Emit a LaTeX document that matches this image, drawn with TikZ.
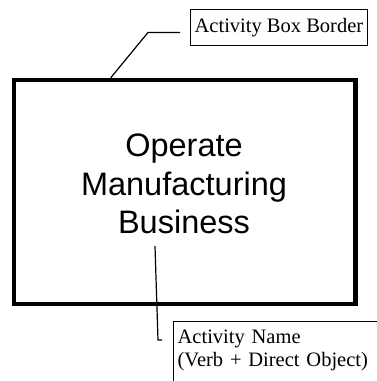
\documentclass[tikz,border=0pt]{standalone}
\usepackage{fontspec}
\setmainfont{Liberation Serif}
\newfontfamily\arialfont{Liberation Sans}
\usetikzlibrary{calc}

\begin{document}
\begin{tikzpicture}[x=1pt,y=-1pt,
  act/.style={draw=black,line width=4.5pt,minimum width=341.5pt,minimum height=224pt,
              inner sep=0pt},
  actname/.style={font=\arialfont\fontsize{32.5}{38.5}\selectfont,align=center,inner sep=0pt},
  note/.style={draw=black,line width=1.3pt,font=\fontsize{20.5}{23.5}\selectfont,
               inner xsep=4pt,inner ysep=8.5pt,align=left},
  ldr/.style={draw=black,line width=1.2pt}]
\useasboundingbox (0,0) rectangle (377,381);
\clip (0,0) rectangle (377,381);

\node[act]     (box)  at (184.75,192) {};
\node[actname] (name) at (184,184) {Operate\\Manufacturing\\Business};

\node[note,anchor=north west] (brd) at (190,9) {Activity Box Border};
\node[note,anchor=north west,inner ysep=8pt,text width=250pt,text depth=60pt]
     (nm) at (173,321) {Activity Name\\(Verb + Direct Object)};

\draw[ldr] ($(brd.west)+(-10,5)$) -- ($(brd.west)+(-42,5)$) -- ($(box.north west)+(99,0)$);
\draw[ldr] ($(name.south)+(-29,12)$) -- ($(nm.north west)+(-15,19)$) -- ($(nm.north west)+(-11,19)$);
\end{tikzpicture}
\end{document}
